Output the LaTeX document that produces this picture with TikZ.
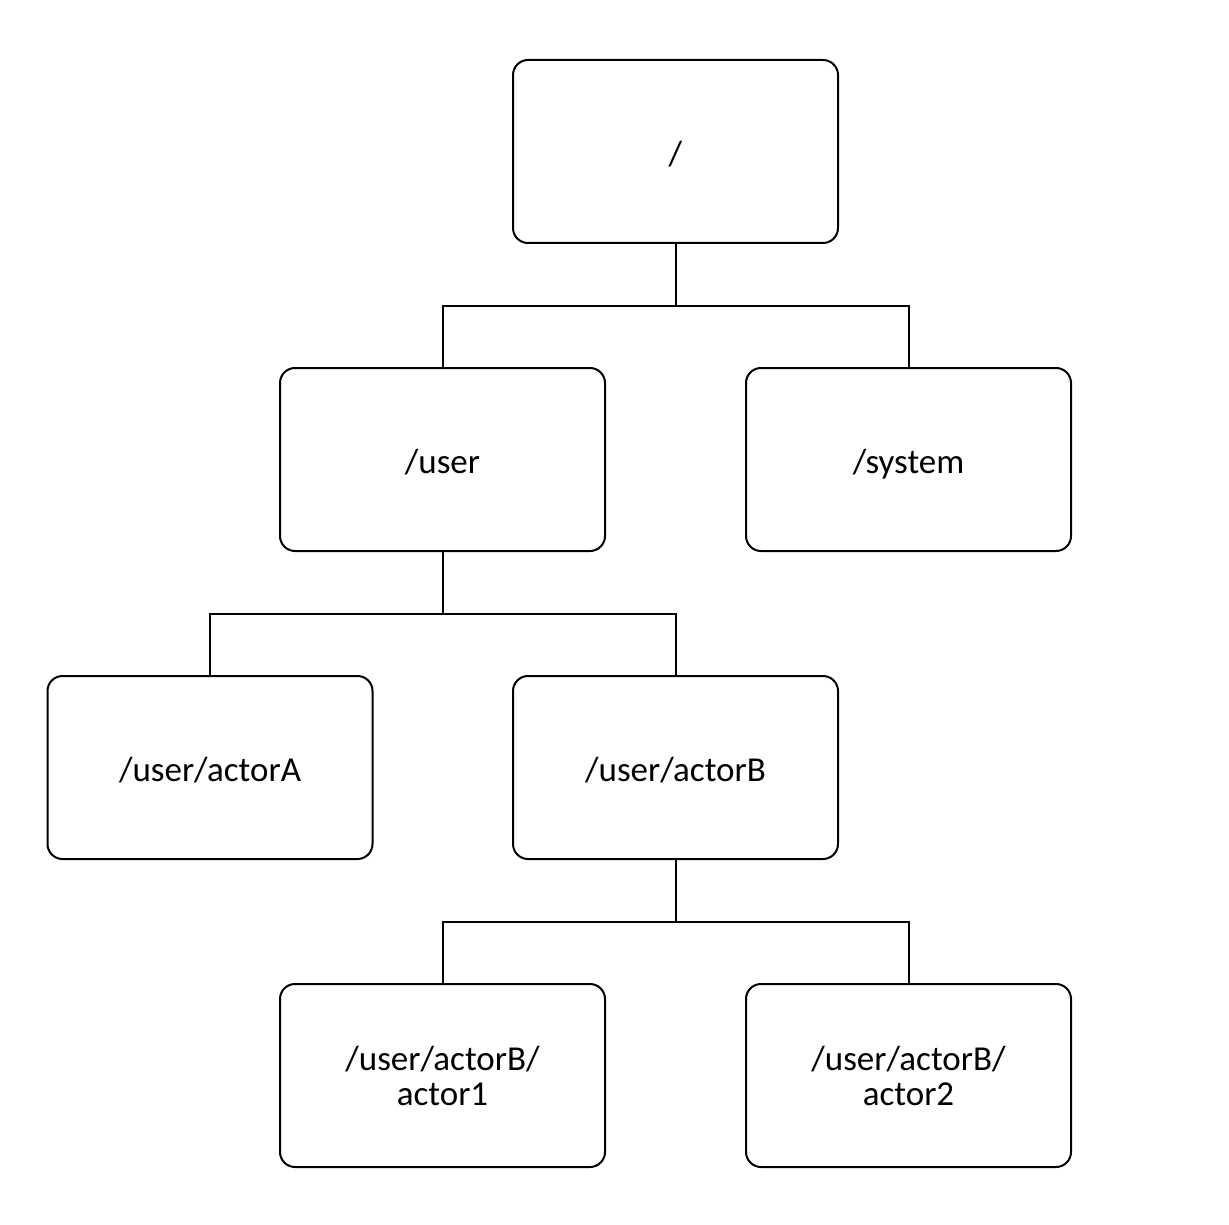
\documentclass[tikz,border=0pt]{standalone}
\usepackage{fontspec}
\setmainfont{Carlito}
\usepackage{tikz}

\begin{document}
\begin{tikzpicture}[x=1pt,y=-1pt]
			\tikzstyle{box}=[draw=black,line width=2pt,rounded corners=15pt,minimum width=325pt,minimum height=183pt,align=center,font=\fontsize{35}{35}\selectfont,inner sep=0pt,text height=28pt,text depth=0pt]
			\tikzstyle{twoline}=[box,text height=59pt]
			\tikzstyle{link}=[draw=black,line width=2pt]
			\useasboundingbox (0,0) rectangle (1229,1225);
			\node [box] (root) at (675.5,151.5) {/};
			\node [box] (user) at (442.5,459.5) {/user};
			\node [box] (system) at (908.5,459.5) {/system};
			\node [box] (actorA) at (210,767.5) {/user/actorA};
			\node [box] (actorB) at (675.5,767.5) {/user/actorB};
			\node [twoline] (actorOne) at (442.5,1075.5) {/user/actorB/\\actor1};
			\node [twoline] (actorTwo) at (908.5,1075.5) {/user/actorB/\\actor2};
			% elbow points
			\coordinate (jroot) at (675.5,305.5);
			\coordinate (juser) at (442.5,613.5);
			\coordinate (jactorB) at (675.5,921.5);
			\draw [link] (root.south) -- (jroot);
			\draw [link] (jroot) -| (user.north);
			\draw [link] (jroot) -| (system.north);
			\draw [link] (user.south) -- (juser);
			\draw [link] (juser) -| (actorA.north);
			\draw [link] (juser) -| (actorB.north);
			\draw [link] (actorB.south) -- (jactorB);
			\draw [link] (jactorB) -| (actorOne.north);
			\draw [link] (jactorB) -| (actorTwo.north);
\end{tikzpicture}
\end{document}
